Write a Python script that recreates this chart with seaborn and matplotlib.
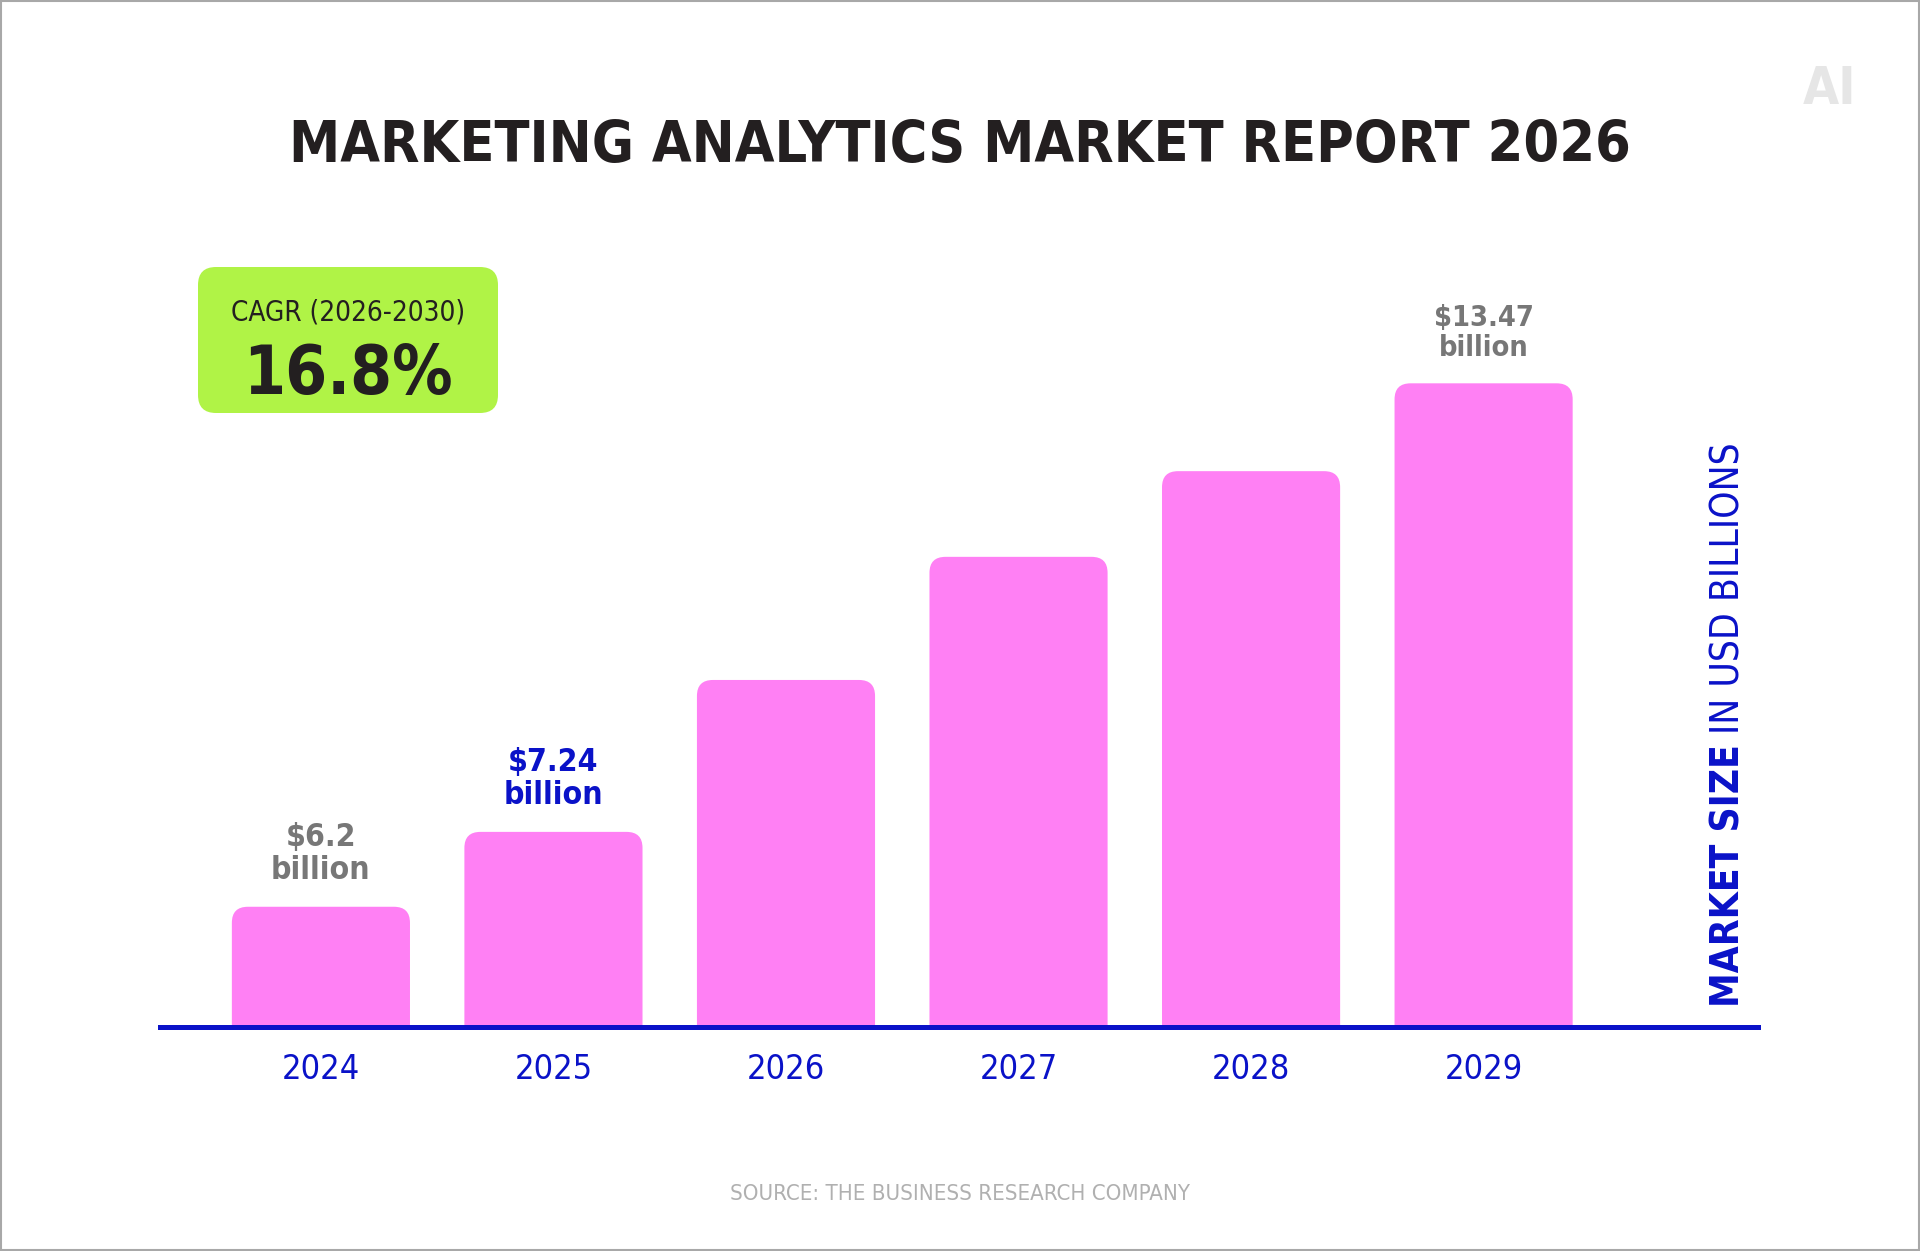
import os
import numpy as np
import pandas as pd
import seaborn as sns
import matplotlib
matplotlib.use("Agg")
import matplotlib.pyplot as plt
from matplotlib import font_manager as fm
from matplotlib.patches import FancyBboxPatch, Rectangle

# data
years = ["2024", "2025", "2026", "2027", "2028", "2029"]
market_size = [6.2, 7.24, 9.35, 11.06, 12.25, 13.47]
value_labels = ["$6.2\nbillion", "$7.24\nbillion", "", "", "", "$13.47\nbillion"]
label_colors = ["#777777", "#0a12c8", None, None, None, "#777777"]
title = "MARKETING ANALYTICS MARKET REPORT 2026"
cagr_period = "CAGR (2026-2030)"
cagr_value = "16.8%"
axis_title_bold = "MARKET SIZE"
axis_title_rest = "IN USD BILLIONS"
source = "SOURCE: THE BUSINESS RESEARCH COMPANY"

PINK = "#ff80f4"
BLUE = "#0a12c8"
LIME = "#b0f346"
INK = "#231f20"

W, H = 1920, 1251


def find_condensed(bold):
    # look for a narrow/condensed face so the poster type fits
    for f in fm.fontManager.ttflist:
        key = (f.name + " " + os.path.basename(f.fname)).lower()
        if f.style != "normal":
            continue
        if not ("condensed" in key or "narrow" in key):
            continue
        if any(k in key for k in ("extra", "semi", "ultra", "light", "thin", "medium", "black", "italic")):
            continue
        wt = f.weight if isinstance(f.weight, int) else (700 if "bold" in str(f.weight) else 400)
        is_bold = wt >= 600 or "bold" in key
        if is_bold == bold:
            return f.fname
    return None


BOLD_FILE = find_condensed(True)
REG_FILE = find_condensed(False)


def font(bold, px):
    size = px * 0.72
    f = BOLD_FILE if bold else REG_FILE
    if f:
        return fm.FontProperties(fname=f, size=size)
    return fm.FontProperties(family=["Roboto", "DejaVu Sans"], weight="bold" if bold else "normal", size=size)


sns.set_theme(style="white")
plt.rcParams["font.family"] = ["Roboto", "DejaVu Sans"]

fig = plt.figure(figsize=(W / 100, H / 100), dpi=100)
fig.patch.set_facecolor("white")
renderer = fig.canvas.get_renderer()


def fit(t, target, vertical=False):
    bb = t.get_window_extent(renderer)
    size = bb.height if vertical else bb.width
    if size > target:
        t.set_fontsize(t.get_fontsize() * target / size)


# main bar axes: baseline at y=1027px, spans x 160..1758px
y_floor = 4.53
px_per_unit = 72.0
ax_left, ax_right = 160, 1758
ax_bottom = H - 1027
ax_h = 740
ax = fig.add_axes([ax_left / W, ax_bottom / H, (ax_right - ax_left) / W, ax_h / H])
ax.set_facecolor("none")

df = pd.DataFrame({"year": years, "size": market_size})
sns.barplot(data=df, x="year", y="size", color=PINK, saturation=1, width=0.766, ax=ax)

step = (ax_right - ax_left) / 6.872
ax.set_xlim(-0.692, 6.18)
ax.set_ylim(y_floor, y_floor + ax_h / px_per_unit)

# rounded tops
r = 16 / step
aspect = step / px_per_unit
for p in list(ax.patches):
    x0, w, h = p.get_x(), p.get_width(), p.get_height()
    p.remove()
    ax.add_patch(FancyBboxPatch((x0, 0), w, h,
                                boxstyle=f"round,pad=0,rounding_size={r}",
                                mutation_aspect=aspect, facecolor=PINK,
                                edgecolor="none", zorder=2))

for i, (lab, col) in enumerate(zip(value_labels, label_colors)):
    if not lab:
        continue
    t = ax.annotate(lab, (i, market_size[i]), xytext=(0, 15), textcoords="offset points",
                    ha="center", va="bottom", color=col, fontproperties=font(True, 44),
                    linespacing=1.1, annotation_clip=False)
    fit(t, 100)

ax.set_yticks([])
ax.set_xlabel("")
ax.set_ylabel("")
for s in ("left", "top", "right"):
    ax.spines[s].set_visible(False)
ax.spines["bottom"].set_color(BLUE)
ax.spines["bottom"].set_linewidth(3.6)
ax.spines["bottom"].set_zorder(3)
ax.tick_params(axis="x", length=0, pad=19, colors=BLUE)
for t in ax.get_xticklabels():
    t.set_fontproperties(font(False, 46))
    fit(t, 78)

# overlay in pixel coords for the poster furniture
ov = fig.add_axes([0, 0, 1, 1], zorder=5)
ov.set_xlim(0, W)
ov.set_ylim(H, 0)
ov.axis("off")
ov.patch.set_alpha(0)

ov.add_patch(Rectangle((1, 1), W - 2, H - 2, fill=False, edgecolor="#a8a8a8", linewidth=1.5))

t = ov.text(W / 2, 162, title, ha="center", va="baseline", color=INK, fontproperties=font(True, 76))
fit(t, 1340)

ov.text(1830, 104, "AI", ha="center", va="baseline", color="#e6e6e6", fontproperties=font(True, 52))

ov.add_patch(FancyBboxPatch((198, 267), 300, 146, boxstyle="round,pad=0,rounding_size=18",
                            facecolor=LIME, edgecolor="none"))
t = ov.text(348, 321, cagr_period, ha="center", va="baseline", color=INK, fontproperties=font(False, 38))
fit(t, 234)
t = ov.text(348, 394, cagr_value, ha="center", va="baseline", color=INK, fontproperties=font(True, 82))
fit(t, 210)

# vertical axis title, bold part then regular part
t1 = ov.text(1729, 1007, axis_title_bold, rotation=90, ha="center", va="bottom",
             color=BLUE, fontproperties=font(True, 52))
t2 = ov.text(1729, 0, axis_title_rest, rotation=90, ha="center", va="bottom",
             color=BLUE, fontproperties=font(False, 52))
total = t1.get_window_extent(renderer).height + t2.get_window_extent(renderer).height + 12
if total > 564:
    k = 564 / total
    t1.set_fontsize(t1.get_fontsize() * k)
    t2.set_fontsize(t2.get_fontsize() * k)
h1 = t1.get_window_extent(renderer).height
t2.set_position((1729, 1007 - h1 - 10))

t = ov.text(W / 2, 1200, source, ha="center", va="baseline", color="#b0b0b0", fontproperties=font(False, 30))
fit(t, 458)

fig.savefig("out.png", dpi=100, facecolor="white")
